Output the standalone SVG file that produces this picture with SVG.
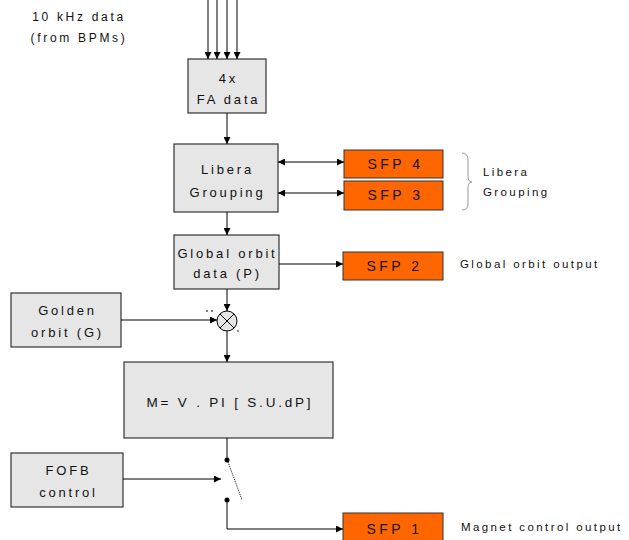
<svg xmlns="http://www.w3.org/2000/svg" width="629" height="540" viewBox="0 0 629 540">
<defs>
<marker id="ah" viewBox="0 0 10 10" refX="10" refY="5" markerWidth="9" markerHeight="7" markerUnits="userSpaceOnUse" orient="auto-start-reverse">
<path d="M0,0 L10,5 L0,10 z" fill="#000"/>
</marker>
<style>
.box{fill:#e6e6e6;stroke:#333;stroke-width:1.2}
.sfp{fill:#ff6600;stroke:#333;stroke-width:1}
.t{font-family:"Liberation Sans",Arial,sans-serif;font-size:13px;letter-spacing:2.8px;fill:#111;text-anchor:middle}
.s{font-family:"Liberation Sans",Arial,sans-serif;font-size:14px;letter-spacing:3.5px;fill:#111;text-anchor:middle}
.l{font-family:"Liberation Sans",Arial,sans-serif;font-size:11.5px;letter-spacing:2.4px;fill:#111}
.c{fill:none;stroke:#000;stroke-width:1}
</style>
</defs>
<rect width="629" height="540" fill="#fff"/>
<g id="input-label">
<text class="t" x="79" y="21" style="font-size:12px;letter-spacing:2.7px">10 kHz data</text>
<text class="t" x="79" y="42" style="font-size:12px;letter-spacing:2.7px">(from BPMs)</text>
</g>
<g id="fa-data"><rect class="box" x="188" y="59" width="78" height="54"/>
<text class="t" x="228.5" y="83">4x</text><text class="t" x="228.5" y="104">FA data</text></g>
<g id="libera-grouping"><rect class="box" x="174" y="144" width="104" height="68"/>
<text class="t" x="227.5" y="174">Libera</text><text class="t" x="227.5" y="197">Grouping</text></g>
<g id="sfp4"><rect class="sfp" x="344" y="150" width="99" height="28"/><text class="s" x="395.5" y="169">SFP 4</text></g>
<g id="sfp3"><rect class="sfp" x="344" y="181" width="99" height="29"/><text class="s" x="395.5" y="200">SFP 3</text></g>
<g id="libera-grouping-label">
<path d="M462,153 Q468,153 468,160 L468,176 Q468,182 472,182 Q468,182 468,188 L468,204 Q468,210 462,210" fill="none" stroke="#999" stroke-width="1"/>
<text class="l" x="483" y="176">Libera</text><text class="l" x="483" y="196">Grouping</text></g>
<g id="global-orbit"><rect class="box" x="174" y="235" width="105" height="54"/>
<text class="t" x="227.5" y="258">Global orbit</text><text class="t" x="227.5" y="278">data (P)</text></g>
<g id="sfp2"><rect class="sfp" x="343" y="252" width="100" height="28"/><text class="s" x="394.5" y="271">SFP 2</text>
<text class="l" x="460" y="268">Global orbit output</text></g>
<g id="golden-orbit"><rect class="box" x="11" y="293" width="110" height="54"/>
<text class="t" x="67.5" y="315">Golden</text><text class="t" x="67.5" y="337">orbit (G)</text></g>
<g id="sum"><circle cx="227" cy="321" r="10" fill="#e6e6e6" stroke="#000" stroke-width="1"/>
<path d="M220,314 L234,328 M234,314 L220,328" stroke="#000" stroke-width="1"/>
<path d="M206,311 h2 M211,311 h2" stroke="#000" stroke-width="1"/>
<circle cx="238" cy="331" r="0.8" fill="#000"/></g>
<g id="controller"><rect class="box" x="124" y="362" width="209" height="76"/>
<text class="t" x="230" y="407" style="font-size:13.5px">M= V . PI [ S.U.dP]</text></g>
<g id="fofb-control"><rect class="box" x="11" y="453" width="112" height="54"/>
<text class="t" x="68.5" y="475">FOFB</text><text class="t" x="68.5" y="497">control</text></g>
<g id="switch"><circle cx="227" cy="460" r="2.5" fill="#000"/><circle cx="227" cy="500" r="2.5" fill="#000"/>
<line x1="228" y1="462" x2="242" y2="500" stroke="#333" stroke-width="1" stroke-dasharray="1.2,0.8"/></g>
<g id="sfp1"><rect class="sfp" x="343" y="513" width="100" height="30"/><text class="s" x="394.5" y="534">SFP 1</text>
<text class="l" x="461" y="531">Magnet control output</text></g>
<g id="connectors">
<line class="c" x1="208" y1="0" x2="208" y2="59" marker-end="url(#ah)"/>
<line class="c" x1="217" y1="0" x2="217" y2="59" marker-end="url(#ah)"/>
<line class="c" x1="227" y1="0" x2="227" y2="59" marker-end="url(#ah)"/>
<line class="c" x1="237" y1="0" x2="237" y2="59" marker-end="url(#ah)"/>
<line class="c" x1="227" y1="113" x2="227" y2="144" marker-end="url(#ah)"/>
<line class="c" x1="278" y1="162" x2="344" y2="162" marker-start="url(#ah)" marker-end="url(#ah)"/>
<line class="c" x1="278" y1="193" x2="344" y2="193" marker-start="url(#ah)" marker-end="url(#ah)"/>
<line class="c" x1="227" y1="212" x2="227" y2="235" marker-end="url(#ah)"/>
<line class="c" x1="279" y1="264" x2="343" y2="264" marker-end="url(#ah)"/>
<line class="c" x1="227" y1="289" x2="227" y2="311" marker-end="url(#ah)"/>
<line class="c" x1="121" y1="320" x2="217" y2="320" marker-end="url(#ah)"/>
<line class="c" x1="227" y1="331" x2="227" y2="362" marker-end="url(#ah)"/>
<line class="c" x1="227" y1="438" x2="227" y2="460"/>
<line class="c" x1="123" y1="479" x2="221" y2="479" marker-end="url(#ah)"/>
<polyline class="c" points="227,500 227,529 343,529" marker-end="url(#ah)"/>
</g>
</svg>
